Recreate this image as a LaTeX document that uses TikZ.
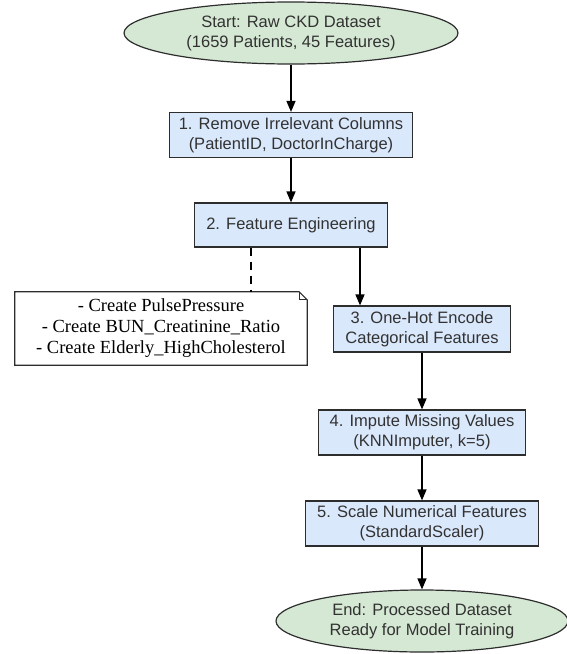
\documentclass[tikz,border=0pt]{standalone}
\usepackage{fontspec}
\setmainfont{Liberation Sans}
\newfontfamily\notefont{Liberation Serif}
\usetikzlibrary{shapes.geometric,arrows.meta}

\definecolor{stepblue}{RGB}{218,232,252}
\definecolor{termgreen}{RGB}{213,232,212}
\definecolor{edgegray}{RGB}{45,45,45}
\definecolor{textgray}{RGB}{50,50,50}

\tikzset{%
  every step/.style={
    rectangle,
    draw=edgegray,
    fill=stepblue,
    line width=1.2pt,
    align=center,
    minimum height=45pt,
    inner sep=1pt,
    text=textgray,
    font=\fontsize{16.5}{20}\selectfont
  },
  terminal/.style={
    ellipse,
    draw=edgegray,
    fill=termgreen,
    line width=1.2pt,
    align=center,
    minimum height=62pt,
    inner sep=1pt,
    text=textgray,
    font=\fontsize{16.5}{20}\selectfont
  },
  note text/.style={
    draw=none,
    align=center,
    minimum width=292pt,
    minimum height=73pt,
    inner sep=1pt,
    font=\notefont\fontsize{18.5}{21}\selectfont
  },
}

\begin{document}
\begin{tikzpicture}[x=1pt,y=-1pt, >={Triangle[length=11pt,width=9pt]}]%[ultra thick]
  \useasboundingbox (0,0) rectangle (566,654);
  \node [terminal, minimum width=334pt] (start) at ( 291 ,33) {Start: Raw CKD Dataset\\(1659 Patients, 45 Features)} ;
  \node [every step, minimum width=243pt] (v-1) at ( 291 ,135) {1. Remove Irrelevant Columns\\(PatientID, DoctorInCharge)} ;
  \node [every step, minimum width=193pt, minimum height=44pt] (v-2) at ( 291 ,225) {2. Feature Engineering} ;
  \node [note text] (note) at ( 161 ,328.5) {- Create PulsePressure\\- Create BUN\_Creatinine\_Ratio\\- Create Elderly\_HighCholesterol} ;
  \node [every step, minimum width=177pt, minimum height=46pt] (v-3) at ( 422 ,329) {3. One-Hot Encode\\Categorical Features} ;
  \node [every step, minimum width=207pt] (v-4) at ( 422 ,432.5) {4. Impute Missing Values\\(KNNImputer, k=5)} ;
  \node [every step, minimum width=233pt] (v-5) at ( 422 ,523.5) {5. Scale Numerical Features\\(StandardScaler)} ;
  \node [terminal, minimum width=292pt] (end) at ( 422 ,621) {End: Processed Dataset\\Ready for Model Training} ;
%% note with folded corner
\draw [draw=edgegray, fill=white, line width=1.2pt] (note.north west) -- ([xshift=-8pt]note.north east) -- ([yshift=-8pt]note.north east) -- (note.south east) -- (note.south west) -- cycle;
\draw [draw=edgegray, line width=1pt] ([xshift=-8pt]note.north east) -- ([xshift=-8pt,yshift=-8pt]note.north east) -- ([yshift=-8pt]note.north east);
\node [note text] at (note) {- Create PulsePressure\\- Create BUN\_Creatinine\_Ratio\\- Create Elderly\_HighCholesterol};
\draw [->, line width=1.4pt] (start) -- (v-1);
\draw [->, line width=1.4pt] (v-1) -- (v-2);
\draw [dashed, line width=1.4pt, dash pattern=on 8pt off 6pt] ([xshift=-40pt]v-2.south) -- ([xshift=-40pt]v-2.south |- note.north);
\draw [->, line width=1.4pt] ([xshift=69pt]v-2.south) -- ([xshift=69pt]v-2.south |- v-3.north);
\draw [->, line width=1.4pt] (v-3) -- (v-4);
\draw [->, line width=1.4pt] (v-4) -- (v-5);
\draw [->, line width=1.4pt] (v-5) -- (end);
\end{tikzpicture}
\end{document}
